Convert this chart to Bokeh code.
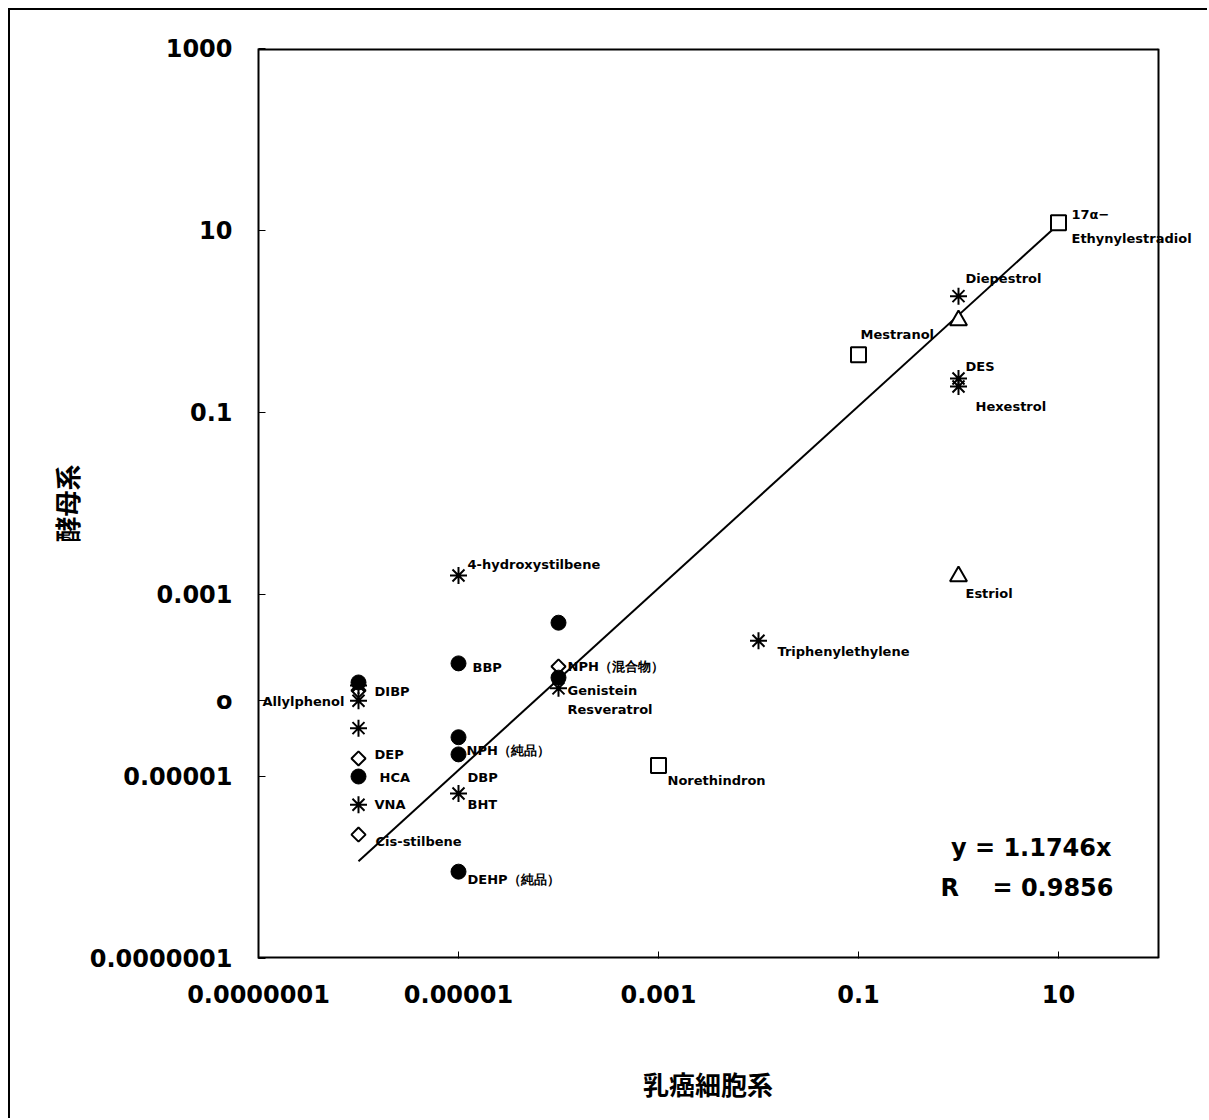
from bokeh.plotting import figure
from bokeh.models import FixedTicker, Label, ColumnDataSource
from bokeh.embed import file_html
from bokeh.resources import INLINE
from bokeh.core.properties import value

# ---------------- data ----------------
x_ticks = [1e-7, 1e-5, 1e-3, 1e-1, 1e1]
x_tick_labels = ["0.0000001", "0.00001", "0.001", "0.1", "10"]
y_ticks = [1e-7, 1e-5, 1e-3, 1e-1, 1e1, 1e3]
y_tick_labels = ["0.0000001", "0.00001", "0.001", "0.1", "10", "1000"]
x_min, x_max = 1e-7, 1e2
y_min, y_max = 1e-7, 1e3

dot_x = [1e-6, 1e-6, 1e-5, 1e-5, 1e-5, 1e-5, 1e-4, 1e-4]
dot_y = [1.08e-4, 1.0e-5, 1.75e-4, 2.7e-5, 1.75e-5, 9.0e-7, 4.9e-4, 1.22e-4]

star_x = [1e-6, 1e-6, 1e-6, 1e-6, 1e-5, 1e-5, 1e-4, 1e-2, 1, 1, 1]
star_y = [1.0e-4, 6.8e-5, 3.4e-5, 4.9e-6, 1.62e-3, 6.5e-6, 9.3e-5, 3.1e-4, 1.9, 0.236, 0.193]

diamond_x = [1e-6, 1e-6, 1e-6, 1e-4]
diamond_y = [8.8e-5, 1.58e-5, 2.3e-6, 1.62e-4]

square_x = [10, 0.1, 1e-3]
square_y = [12.2, 0.43, 1.32e-5]

triangle_x = [1, 1]
triangle_y = [1.03, 1.58e-3]

slope = 1.1746
r2 = 0.9856
fit_x = [1e-6, 10]

allyl_y = 6.8e-5   # o-Allylphenol

label_text = ["17α−", "Ethynylestradiol", "Diepestrol", "Mestranol", "DES", "Hexestrol",
              "Estriol", "Triphenylethylene", "Norethindron", "4-hydroxystilbene", "BBP",
              "NPH（混合物）", "Genistein", "Resveratrol", "DIBP", "DEP", "HCA", "VNA",
              "Cis-stilbene", "NPH（純品）", "DBP", "BHT", "DEHP（純品）", "Allylphenol"]
label_x = [10, 10, 1, 0.1, 1, 1, 1, 1e-2, 1e-3, 1e-5, 1e-5, 1e-4, 1e-4, 1e-4,
           1e-6, 1e-6, 1e-6, 1e-6, 1e-6, 1e-5, 1e-5, 1e-5, 1e-5, 1e-7]
label_y = [12.2, 12.2, 1.9, 0.43, 0.236, 0.193, 1.58e-3, 3.1e-4, 1.32e-5, 1.62e-3, 1.75e-4,
           1.62e-4, 9.3e-5, 9.3e-5, 8.8e-5, 1.58e-5, 1.0e-5, 4.9e-6, 2.3e-6, 1.75e-5,
           1.75e-5, 6.5e-6, 9.0e-7, allyl_y]
# offsets of the label text from its point (screen px)
label_dx = [13, 13, 7, 2, 7, 17, 7, 19, 9, 9, 14, 9, 9, 9, 16, 16, 21, 16, 17, 8, 9, 9, 9, 4]
label_dy = [-8, 16, -18, -20, -12, 20, 17, 11, 15, -11, 4, 0, 2, 21, 1, -4, 1, 0, 7, -4, 23, 11, 8, 1]

# ---------------- figure ----------------
# frame is extended to the right so that labels may run past the drawn box
p = figure(width=1199, height=1110, x_axis_type="log", y_axis_type="log",
           x_range=(x_min, x_max * 10 ** 0.51), y_range=(y_min, y_max),
           output_backend="svg", toolbar_location=None,
           min_border_left=248, min_border_right=0, min_border_top=38, min_border_bottom=162)
p.styles = {"margin-left": "8px", "margin-top": "8px",
            "border-left": "2px solid black", "border-top": "2px solid black"}
p.grid.visible = False
p.outline_line_color = None
p.background_fill_color = "white"
p.border_fill_color = "white"

yt = y_ticks + [allyl_y]
yl = y_tick_labels + ["o"]
for ax, ticks, labs in ((p.xaxis[0], x_ticks, x_tick_labels), (p.yaxis[0], yt, yl)):
    ax.ticker = FixedTicker(ticks=ticks, minor_ticks=[])
    ax.major_label_overrides = {t: l for t, l in zip(ticks, labs)}
    ax.major_tick_in = 7
    ax.major_tick_out = 0
    ax.minor_tick_line_color = None
    ax.axis_line_color = "black"
    ax.axis_line_width = 2
    ax.major_tick_line_color = "black"
    ax.major_tick_line_width = 1
    ax.major_label_text_font = "DejaVu Sans"
    ax.major_label_text_font_style = "bold"
    ax.major_label_text_font_size = "24px"
    ax.major_label_text_color = "black"
    ax.axis_label_text_font = "Noto Sans CJK JP"
    ax.axis_label_text_font_style = "bold"
    ax.axis_label_text_font_size = "26px"
    ax.axis_label_text_color = "black"

p.xaxis.axis_line_color = None
# two ideographic spaces re-centre the title under the drawn box
p.xaxis.axis_label = "乳癌細胞系\u3000\u3000"
p.yaxis.axis_label = "酵母系"
p.xaxis.major_label_standoff = 26
p.yaxis.major_label_standoff = 26
p.xaxis.axis_label_standoff = 59
p.yaxis.axis_label_standoff = 2

# drawn box: bottom, top and right edges at the chart's range limits
p.segment(x0=[x_min, x_min], y0=[y_min, y_max], x1=[x_max, x_max], y1=[y_min, y_max],
          line_color="black", line_width=4)
p.segment(x0=[x_max], y0=[y_min], x1=[x_max], y1=[y_max], line_color="black", line_width=2)

# regression line
p.line(fit_x, [slope * v for v in fit_x], line_color="black", line_width=2)

# markers
p.scatter(square_x, square_y, marker="square", size=15, fill_color="white", line_color="black", line_width=2)
p.scatter(triangle_x, triangle_y, marker="triangle", size=17, fill_color="white", line_color="black", line_width=2)
p.scatter(diamond_x, diamond_y, marker="square", angle=0.785398, size=10, fill_color="white",
          line_color="black", line_width=2)
p.scatter(dot_x, dot_y, marker="circle", size=15, fill_color="black", line_color="black")
p.scatter(star_x, star_y, marker="asterisk", size=17, line_color="black", line_width=2)

# labels
src = ColumnDataSource(dict(x=label_x, y=label_y, text=label_text, dx=label_dx, dy=label_dy))
p.text(x="x", y="y", text="text", x_offset="dx", y_offset="dy", source=src,
       text_font=value("DejaVu Sans"), text_font_style="bold", text_font_size="13px",
       text_align="left", text_baseline="middle", text_color="black")

# regression equation
p.add_layout(Label(x=x_max, y=1.62e-6, text="y = %.4fx" % slope, x_offset=-47,
                   text_font="DejaVu Sans", text_font_style="bold", text_font_size="24px",
                   text_baseline="middle", text_align="right", text_color="black"))
p.add_layout(Label(x=x_max, y=5.9e-7, text="R\u00a0\u00a0\u00a0 = %.4f" % r2, x_offset=-45,
                   text_font="DejaVu Sans", text_font_style="bold", text_font_size="24px",
                   text_baseline="middle", text_align="right", text_color="black"))

open("out.html", "w").write(file_html(p, INLINE))
